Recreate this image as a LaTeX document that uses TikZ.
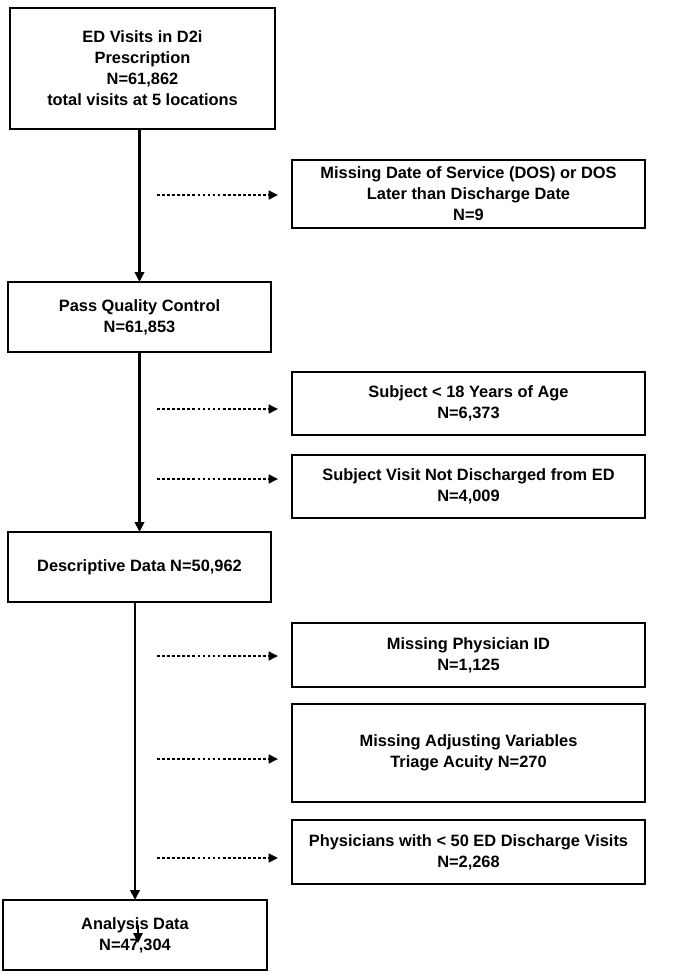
\documentclass[tikz,border=0pt]{standalone}
\usepackage{fontspec}
\setmainfont{Liberation Sans}
\usepackage{tikz}
\usetikzlibrary{arrows.meta}

\begin{document}
\begin{tikzpicture}[x=0.75pt, y=-0.75pt,
        box/.style={draw, line width=1.8pt, inner sep=0pt, outer sep=0pt, align=center, font=\fontsize{12.3}{15.75}\selectfont\bfseries},
        flow/.style={line width=2.1pt, -{Triangle[length=7.5pt, width=7pt]}},
        skip/.style={line width=2pt, dash pattern=on 2pt off 1.8pt, shorten >=10.5pt, -{Triangle[length=7pt, width=6.5pt]}}]
        \useasboundingbox (0,0) rectangle (686,976);

        \node[box, minimum width=198.75pt, minimum height=90.75pt] (visits) at (142.5,68.5) {ED Visits in D2i\\Prescription\\N=61,862\\total visits at 5 locations};
        \node[box, minimum width=197.25pt, minimum height=52.5pt] (qc) at (139.5,317) {Pass Quality Control\\N=61,853};
        \node[box, minimum width=197.25pt, minimum height=52.5pt] (desc) at (139.5,567) {Descriptive Data N=50,962};
        \node[box, minimum width=198pt, minimum height=52.5pt] (analysis) at (135,935) {Analysis Data\\N=47,304};

        \node[box, minimum width=264.75pt, minimum height=51pt] (miss1) at (468.5,194) {Missing Date of Service (DOS) or DOS\\Later than Discharge Date\\N=9};
        \node[box, minimum width=264.75pt, minimum height=47.25pt] (miss2) at (468.5,403.5) {Subject < 18 Years of Age\\N=6,373};
        \node[box, minimum width=264.75pt, minimum height=47.25pt] (miss3) at (468.5,486.5) {Subject Visit Not Discharged from ED\\N=4,009};
        \node[box, minimum width=264.75pt, minimum height=48pt] (miss4) at (468.5,655) {Missing Physician ID\\N=1,125};
        \node[box, minimum width=264.75pt, minimum height=73.5pt] (miss5) at (468.5,753) {Missing Adjusting Variables\\Triage Acuity N=270};
        \node[box, minimum width=264.75pt, minimum height=48pt] (miss6) at (468.5,852) {Physicians with < 50 ED Discharge Visits\\N=2,268};

        \coordinate (s1) at (157,195);
        \coordinate (s2) at (157,409);
        \coordinate (s3) at (157,479);
        \coordinate (s4) at (157,656);
        \coordinate (s5) at (157,759);
        \coordinate (s6) at (157,858);
        \coordinate (t1) at (138,925);
        \coordinate (t2) at (138,943);

        \draw[flow] (qc.north |- visits.south) -- (qc.north);
        \draw[flow] (qc.south) -- (qc.south |- desc.north);
        \draw[flow] (analysis.north |- desc.south) -- (analysis.north);

        \draw[skip] (s1) -- (s1 -| miss1.west);
        \draw[skip] (s2) -- (s2 -| miss2.west);
        \draw[skip] (s3) -- (s3 -| miss3.west);
        \draw[skip] (s4) -- (s4 -| miss4.west);
        \draw[skip] (s5) -- (s5 -| miss5.west);
        \draw[skip] (s6) -- (s6 -| miss6.west);

        \draw[flow, line width=1.6pt] (t1) -- (t2);
    \end{tikzpicture}
\end{document}
